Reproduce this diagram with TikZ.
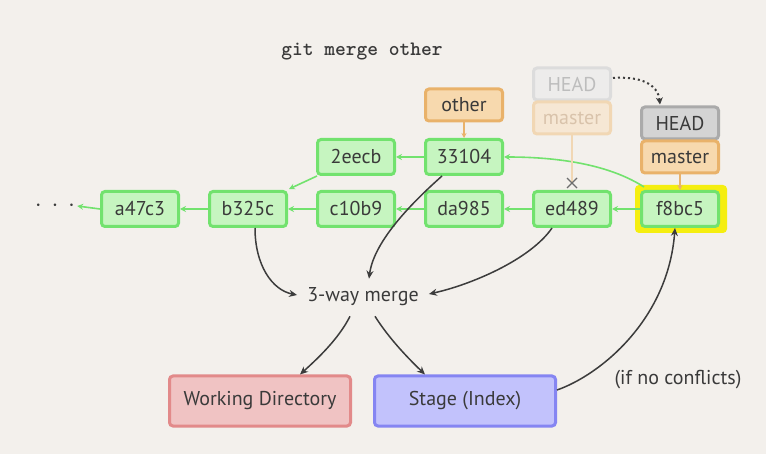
\documentclass[tikz,border=0pt]{standalone}
\usepackage{fontspec}
\setmainfont{PT Sans}
\usetikzlibrary{arrows.meta}
\definecolor{bg}{HTML}{F3F0EC}
\definecolor{txt}{HTML}{3A3A3A}
\definecolor{gfill}{HTML}{C6F5C0}
\definecolor{gline}{HTML}{72E26E}
\definecolor{ofill}{HTML}{F7D9AE}
\definecolor{oline}{HTML}{E9B26A}
\definecolor{hfill}{HTML}{D4D4D4}
\definecolor{hline}{HTML}{AAAAAA}
\definecolor{fhfill}{HTML}{EDECEB}
\definecolor{fhline}{HTML}{DCDCDC}
\definecolor{fhtxt}{HTML}{BDBDBD}
\definecolor{fofill}{HTML}{F6E7D4}
\definecolor{foline}{HTML}{F1D7B4}
\definecolor{fotxt}{HTML}{D9C3AB}
\definecolor{rfill}{HTML}{F0C3C3}
\definecolor{rline}{HTML}{E28A8A}
\definecolor{bfill}{HTML}{C2C2FC}
\definecolor{bline}{HTML}{8585F2}
\definecolor{hl}{HTML}{F5EE10}
\definecolor{blk}{HTML}{3C3C3C}
\begin{document}
\begin{tikzpicture}[x=1pt,y=-1pt,
  base/.style={rounded corners=3.5pt, line width=3pt, inner sep=0pt, text=txt,
    font=\fontsize{20}{20}\selectfont},
  commit/.style={base, draw=gline, fill=gfill, minimum width=77pt, minimum height=35pt},
  tagbox/.style={base, draw=oline, fill=ofill, minimum width=77pt, minimum height=32pt},
  headbox/.style={base, draw=hline, fill=hfill, minimum width=77pt, minimum height=32pt},
  fheadbox/.style={base, draw=fhline, fill=fhfill, text=fhtxt, minimum width=77pt, minimum height=32pt},
  ftagbox/.style={base, draw=foline, fill=fofill, text=fotxt, minimum width=77pt, minimum height=32pt},
  areabox/.style={base, minimum width=181pt, minimum height=50pt},
  garrow/.style={draw=gline, line width=1.6pt, -{Stealth[length=6pt,width=6pt]}},
  oarrow/.style={draw=oline, line width=1.2pt, -{Stealth[length=5pt,width=5pt]}},
  barrow/.style={draw=blk, line width=1.5pt, -{Stealth[length=8pt,width=7pt]}},
  plain/.style={text=txt, font=\fontsize{20}{20}\selectfont, inner sep=0pt}
]
\fill[bg] (0,0) rectangle (766,454);
\useasboundingbox (0,0) rectangle (766,454);

% title
\node[text=txt, font=\ttfamily\bfseries\fontsize{20.5}{20.5}\selectfont, inner sep=0pt] (title) at (362,52) {git merge other};

% highlight behind f8bc5
\fill[hl, rounded corners=4pt] (635,185) rectangle (727,233);

% commits
\node[commit] (a47c3) at (140,209) {a47c3};
\node[commit] (b325c) at (248,209) {b325c};
\node[commit] (c10b9) at (356,209) {c10b9};
\node[commit] (da985) at (464,209) {da985};
\node[commit] (ed489) at (572,209) {ed489};
\node[commit] (f8bc5) at (680,209) {f8bc5};
\node[commit] (2eecb) at (356,157) {2eecb};
\node[commit] (33104) at (464,157) {33104};
\node[text=txt, inner sep=2pt, font=\fontsize{26}{26}\selectfont] (dots) at (55,206) {$\cdot\,\cdot\,\cdot$};

% refs
\node[tagbox] (other) at (464,105) {other};
\node[fheadbox] (fhead) at (572,84) {HEAD};
\node[ftagbox] (fmaster) at (572,118) {master};
\node[headbox] (head) at (680,123) {HEAD};
\node[tagbox] (master) at (680,157) {master};

% texts
\node[plain] (merge) at (363,297) {3-way merge};
\node[plain] (cond) at (678,380) {(if no conflicts)};

% areas
\node[areabox, draw=rline, fill=rfill] (wd) at (260,401) {Working Directory};
\node[areabox, draw=bline, fill=bfill] (stage) at (465,401) {Stage (Index)};

% green parent arrows
\draw[garrow] (a47c3.west) -- (dots.east);
\draw[garrow] (b325c.west) -- (a47c3.east);
\draw[garrow] (c10b9.west) -- (b325c.east);
\draw[garrow] (da985.west) -- (c10b9.east);
\draw[garrow] (ed489.west) -- (da985.east);
\draw[garrow] (f8bc5.west) -- (ed489.east);
\draw[garrow] (33104.west) -- (2eecb.east);
\draw[garrow] ([xshift=1pt]2eecb.south west) -- ([xshift=1pt,yshift=1pt]b325c.north east);
\draw[garrow] ([xshift=4pt,yshift=3pt]f8bc5.north west) .. controls (610,165) and (560,157) .. (33104.east);

% ref arrows
\draw[oarrow] (other.south) -- (33104.north);
\draw[oarrow] (master.south) -- (f8bc5.north);
\coordinate (xmark) at (572,183);
\draw[draw=foline, line width=1.2pt] (fmaster.south) -- (xmark);
\draw[draw=blk!75, line width=1.2pt] ([shift={(-5,-5)}]xmark) -- ([shift={(5,5)}]xmark)
  ([shift={(-5,5)}]xmark) -- ([shift={(5,-5)}]xmark);
\draw[draw=blk, line width=2pt, dash pattern=on 2pt off 3pt, -{Stealth[length=7pt,width=7pt]}]
  ([xshift=1pt,yshift=6pt]fhead.east) .. controls (640,76) and (658,84) .. ([xshift=-20pt,yshift=1pt]head.north);

% black arrows
\draw[barrow] ([xshift=7pt]b325c.south) .. controls (255,265) and (272,290) .. ([xshift=-10pt,yshift=2pt]merge.west);
\draw[barrow] ([xshift=-22pt]33104.south) .. controls (415,200) and (374,240) .. ([xshift=6pt,yshift=9pt]merge.north);
\draw[barrow] ([xshift=-20pt]ed489.south) .. controls (530,260) and (470,285) .. ([xshift=10pt,yshift=3pt]merge.east);
\draw[barrow] ([xshift=-13pt,yshift=-10pt]merge.south) .. controls (338,340) and (316,360) .. ([xshift=40pt]wd.north);
\draw[barrow] ([xshift=12pt,yshift=-10pt]merge.south) .. controls (390,340) and (410,360) .. ([xshift=-40pt]stage.north);
\draw[barrow] ([yshift=11pt]stage.east) .. controls (600,375) and (668,320) .. ([xshift=-5pt]f8bc5.south);
\end{tikzpicture}
\end{document}
